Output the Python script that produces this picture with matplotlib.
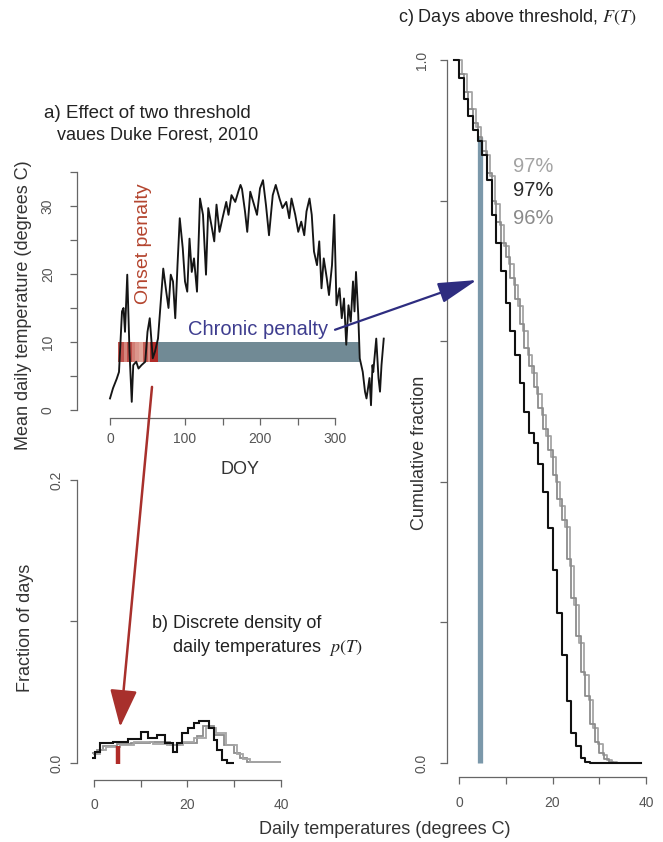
import matplotlib.pyplot as plt
from matplotlib.patches import ConnectionPatch
from matplotlib.colors import to_rgb
import numpy as np

plt.rcParams['font.family'] = ['Liberation Sans', 'DejaVu Sans']
plt.rcParams['mathtext.fontset'] = 'stix'

# --- a) mean daily temperature, Duke Forest 2010 (read off the figure) ---
doy = [0, 4, 9, 12, 16, 18, 20, 23, 26, 29, 31, 35, 38, 42, 47, 50, 53, 57, 60,
       64, 68, 71, 75, 78, 81, 84, 87, 90, 93, 97, 100, 103, 106, 109, 112, 116,
       120, 124, 128, 131, 136, 139, 142, 146, 150, 155, 158, 162, 167, 171, 174,
       176, 180, 183, 187, 191, 196, 200, 204, 208, 212, 217, 221, 226, 230, 235,
       239, 242, 247, 251, 255, 259, 262, 266, 269, 272, 276, 279, 282, 285, 289,
       292, 296, 299, 302, 306, 309, 312, 315, 318, 321, 324, 326, 328, 331, 333,
       337, 340, 342, 346, 348, 350, 351, 355, 358, 360, 362, 365]
temp = [1.7, 3.2, 4.6, 5.6, 14.5, 15.0, 11.5, 19.9, 8.6, 1.2, 6.6, 7.1, 6.1, 6.6,
        7.1, 11.5, 13.5, 7.6, 8.6, 10.5, 16.4, 20.8, 17.4, 15.0, 19.9, 18.9, 13.5,
        21.3, 28.2, 23.8, 18.9, 17.4, 25.2, 20.3, 22.3, 17.4, 31.1, 28.7, 19.9,
        29.7, 26.7, 24.8, 30.2, 26.2, 28.2, 30.6, 28.7, 31.6, 30.6, 32.1, 33.1,
        32.5, 29.2, 26.2, 32.1, 30.6, 28.7, 32.6, 33.8, 30.1, 25.7, 31.6, 33.1,
        31.1, 29.7, 30.6, 28.2, 31.1, 28.7, 26.2, 27.7, 25.7, 29.2, 31.1, 28.7,
        23.3, 21.3, 24.8, 17.9, 22.3, 19.4, 16.9, 21.3, 28.7, 15.4, 17.9, 13.5,
        16.4, 9.6, 15.4, 13.0, 18.9, 14.5, 20.3, 14.0, 7.6, 5.6, 2.7, 1.7, 4.7,
        0.7, 6.6, 5.6, 10.5, 4.7, 2.7, 6.6, 10.5]

onset_start = [11, 18, 22, 29, 33, 38, 44, 51, 53]
onset_end = [18, 22, 29, 33, 38, 44, 51, 53, 64]
onset_shade = [0.75, 0.45, 0.8, 0.5, 0.35, 0.25, 0.7, 0.4, 1.0]
chronic_start, chronic_end = 64, 333
thresh_lo, thresh_hi = 7.0, 10.0

# --- b) discrete density of daily temperatures ---
black_edges = [-0.5, 0.2, 1.3, 4.0, 7.3, 10.0, 11.6, 13.4, 15.2, 17.0, 17.7, 18.8,
               20.2, 21.3, 22.4, 24.5, 25.6, 26.4, 27.4, 28.4, 30.0]
black_dens = [0.0035, 0.008, 0.014, 0.015, 0.017, 0.022, 0.018, 0.020, 0.014,
              0.008, 0.014, 0.021, 0.025, 0.028, 0.0295, 0.025, 0.0165, 0.0095,
              0.0024, 0.0]
gray_edges = [-0.5, 0.6, 2.0, 4.9, 8.0, 12.0, 16.3, 18.4, 22.0, 23.4, 25.6, 27.7,
              29.9, 31.3, 32.7, 39.9]
gray_dens = [0.007, 0.0095, 0.012, 0.0135, 0.014, 0.015, 0.0125, 0.014, 0.019,
             0.026, 0.020, 0.013, 0.007, 0.0035, 0.0005]
gray2_edges = [-0.3, 1.2, 2.6, 5.5, 8.6, 12.6, 15.7, 19.0, 21.4, 24.0, 26.2, 28.3,
               30.5, 31.9, 33.3, 39.9]
gray2_dens = [0.006, 0.009, 0.0115, 0.013, 0.0145, 0.0135, 0.013, 0.0145, 0.018,
              0.025, 0.0215, 0.0125, 0.0065, 0.003, 0.0005]
onset_T = 5.2
onset_height = 0.012

# --- c) days above threshold F(T) ---
c_temp = [-1, 0, 1, 2, 3, 4, 5, 6, 7, 8, 9, 10, 11, 12, 13, 14, 15, 16, 17, 18,
          19, 20, 21, 22, 23, 24, 25, 26, 27, 28, 29, 30, 31, 32, 33, 39]
c_temp2 = [-0.3, 0.7, 1.7, 2.7, 3.7, 4.7, 5.7, 6.7, 7.7, 8.7, 9.7, 10.7, 11.7,
           12.7, 13.7, 14.7, 15.7, 16.7, 17.7, 18.7, 19.7, 20.7, 21.7, 22.7, 23.7,
           24.7, 25.7, 26.7, 27.7, 28.7, 29.7, 30.7, 31.7, 32.7, 33.7, 39]
black_F = [1.0, 0.975, 0.945, 0.92, 0.90, 0.885, 0.865, 0.83, 0.78, 0.74, 0.70,
           0.655, 0.615, 0.58, 0.54, 0.50, 0.47, 0.455, 0.425, 0.385, 0.334, 0.275,
           0.213, 0.154, 0.088, 0.043, 0.024, 0.007, 0.002, 0, 0, 0, 0, 0, 0, 0]
gray_F = [1.0, 0.98, 0.955, 0.93, 0.91, 0.89, 0.87, 0.84, 0.80, 0.77, 0.74, 0.72,
          0.69, 0.66, 0.625, 0.59, 0.565, 0.535, 0.505, 0.475, 0.445, 0.41, 0.375,
          0.345, 0.29, 0.235, 0.18, 0.13, 0.095, 0.055, 0.03, 0.014, 0.005, 0.002,
          0, 0]
gray2_F = [1.0, 0.98, 0.955, 0.93, 0.905, 0.885, 0.865, 0.835, 0.795, 0.765, 0.735,
           0.71, 0.68, 0.65, 0.615, 0.58, 0.555, 0.525, 0.495, 0.465, 0.435, 0.40,
           0.365, 0.335, 0.28, 0.225, 0.17, 0.125, 0.09, 0.05, 0.027, 0.012, 0.004,
           0.001, 0, 0]
chronic_T = 4.5
chronic_F = 0.89
pct_labels = ['97%', '97%', '96%']
pct_colors = ['#a3a3a3', '#2a2a2a', '#8a8a8a']
pct_F = [0.848, 0.815, 0.774]

W, H = 663, 842
AXC = '#666666'


def box(left, top, right, bottom):
    return [left / W, 1 - bottom / H, (right - left) / W, (bottom - top) / H]


def fx(px):
    return px / W


def fy(py):
    return 1 - py / H


def style(ax, xb, yb, off_l, off_b, xt, xt_minor, yt, yt_minor, ypad, xpad):
    for s in ['top', 'right']:
        ax.spines[s].set_visible(False)
    ax.spines['left'].set_position(('outward', off_l))
    ax.spines['bottom'].set_position(('outward', off_b))
    ax.spines['left'].set_bounds(*yb)
    ax.spines['bottom'].set_bounds(*xb)
    for s in ['left', 'bottom']:
        ax.spines[s].set_color(AXC)
        ax.spines[s].set_linewidth(0.9)
    ax.set_xticks(xt)
    ax.set_xticks(xt_minor, minor=True)
    ax.set_yticks(yt)
    ax.set_yticks(yt_minor, minor=True)
    ax.tick_params(which='both', direction='out', length=5, width=0.9,
                   color=AXC, labelcolor='#555555', labelsize=10)
    ax.tick_params(axis='y', labelrotation=90, pad=ypad)
    ax.tick_params(axis='x', pad=xpad)
    for lab in ax.get_yticklabels():
        lab.set_va('center')


fig = plt.figure(figsize=(6.63, 8.42), dpi=100)

# panel a
ax_a = fig.add_axes(box(99.5, 165.2, 395, 413.4))
ax_a.set_xlim(-14, 380)
ax_a.set_ylim(-0.5, 36)
for s0, s1, sh in zip(onset_start, onset_end, onset_shade):
    light = np.array(to_rgb('#f3d0c2'))
    dark = np.array(to_rgb('#b02b28'))
    col = light + (dark - light) * sh
    ax_a.broken_barh([(s0, s1 - s0)], (thresh_lo, thresh_hi - thresh_lo),
                     facecolor=col, zorder=2)
ax_a.broken_barh([(chronic_start, chronic_end - chronic_start)],
                 (thresh_lo, thresh_hi - thresh_lo), facecolor='#718a95', zorder=2)
ax_a.plot(doy, temp, color='#151515', lw=1.35, zorder=3)
style(ax_a, (0, 300), (0, 35), 16.2, 3.3, [0, 100, 200, 300], [50, 150, 250],
      [0, 10, 20, 30], [5, 15, 25, 35], 11, 5)
ax_a.text(44, 24.4, 'Onset penalty', rotation=90, color='#b4452f', fontsize=14,
          ha='center', va='center')
ax_a.text(104, 11.9, 'Chronic penalty', color='#3e3d8f', fontsize=14.5,
          ha='left', va='center', zorder=4)

# panel b
ax_b = fig.add_axes(box(89.3, 472.9, 285.7, 765.8))
ax_b.set_xlim(-1, 41)
ax_b.set_ylim(-0.002, 0.205)
ax_b.stairs(gray_dens, gray_edges, color='#8c8c8c', lw=1.3, baseline=None)
ax_b.stairs(gray2_dens, gray2_edges, color='#a5a5a5', lw=1.3, baseline=None)
ax_b.stairs(black_dens, black_edges, color='#111111', lw=1.5, baseline=None)
ax_b.plot([onset_T, onset_T], [-0.001, onset_height], color='#b02b28', lw=3.2,
          solid_capstyle='butt')
style(ax_b, (0, 40), (0, 0.2), 8.9, 10.2, [0, 20, 40], [10, 30],
      [0.0, 0.2], [0.1], 5, 8)
ax_b.set_yticklabels(['0.0', '0.2'])

# panel c
ax_c = fig.add_axes(box(452.0, 53.0, 650.7, 770.0))
ax_c.set_xlim(-1.5, 41)
ax_c.set_ylim(-0.01, 1.01)
ax_c.plot([chronic_T, chronic_T], [0, chronic_F], color='#7b98aa', lw=3.8,
          solid_capstyle='butt', zorder=1)
ax_c.step(c_temp2, gray2_F, where='post', color='#a5a5a5', lw=1.3)
ax_c.step(c_temp, gray_F, where='post', color='#8c8c8c', lw=1.3)
ax_c.step(c_temp, black_F, where='post', color='#111111', lw=1.5)
for lab, col, f in zip(pct_labels, pct_colors, pct_F):
    ax_c.text(11.6, f, lab, color=col, fontsize=14.5, ha='left', va='center')
style(ax_c, (0, 40), (0, 1), 3.6, 5, [0, 20, 40], [10, 30],
      [0.0, 1.0], [0.2, 0.4, 0.6, 0.8], 8, 9)
ax_c.set_yticklabels(['0.0', '1.0'])

# titles and axis labels
fig.text(fx(44), fy(113), 'a) Effect of two threshold', fontsize=13.5, color='#222222',
         ha='left', va='center')
fig.text(fx(57), fy(135), 'vaues Duke Forest, 2010', fontsize=13, color='#222222',
         ha='left', va='center')
fig.text(fx(152), fy(624), 'b) Discrete density of', fontsize=13, color='#222222',
         ha='left', va='center')
fig.text(fx(172), fy(648), 'daily temperatures  $p(T)$', fontsize=13,
         color='#222222', ha='left', va='center')
fig.text(fx(398), fy(17), 'c) Days above threshold, $F(T)$', fontsize=13,
         color='#222222', ha='left', va='center')
fig.text(fx(24), fy(305), 'Mean daily temperature (degrees C)', rotation=90,
         fontsize=13, color='#333333', ha='center', va='center')
fig.text(fx(240), fy(469), 'DOY', fontsize=13, color='#333333', ha='center',
         va='center')
fig.text(fx(26), fy(628), 'Fraction of days', rotation=90, fontsize=13,
         color='#333333', ha='center', va='center')
fig.text(fx(420), fy(453), 'Cumulative fraction', rotation=90, fontsize=13,
         color='#333333', ha='center', va='center')
fig.text(fx(385), fy(830), 'Daily temperatures (degrees C)', fontsize=13,
         color='#333333', ha='center', va='center')

# arrows linking the panels
arr_c = ConnectionPatch(xyA=(300, 11.8), coordsA=ax_a.transData,
                        xyB=(3.8, 0.687), coordsB=ax_c.transData,
                        arrowstyle='-|>,head_length=1.2,head_width=0.32',
                        mutation_scale=20, color='#2e2d80', lw=1.6,
                        shrinkA=0, shrinkB=0, zorder=5)
fig.add_artist(arr_c)
arr_b = ConnectionPatch(xyA=(56, 3.4), coordsA=ax_a.transData,
                        xyB=(5.6, 0.0255), coordsB=ax_b.transData,
                        arrowstyle='-|>,head_length=1.15,head_width=0.42',
                        mutation_scale=20, color='#a8302c', lw=1.8,
                        shrinkA=0, shrinkB=0, zorder=5)
fig.add_artist(arr_b)

fig.savefig('out.png', dpi=100)
